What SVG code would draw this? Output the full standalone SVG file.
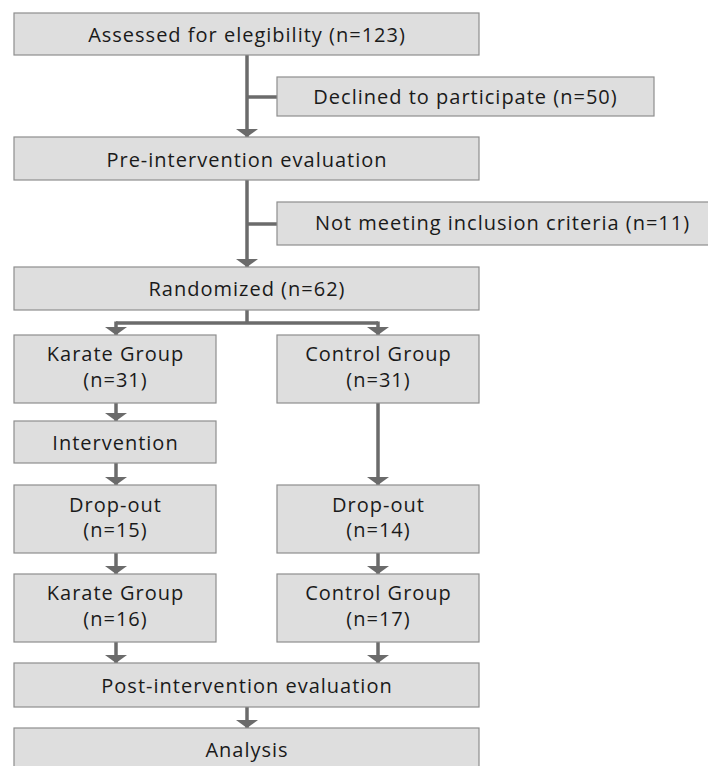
<svg xmlns="http://www.w3.org/2000/svg" width="708" height="766" viewBox="0 0 708 766">
<style>
.box{fill:#dedede;stroke:#8e8e8e;stroke-width:1.2}
.t{font-family:"Open Sans","Liberation Sans",sans-serif;font-size:20px;letter-spacing:1px;fill:#1a1a1a;text-anchor:middle}
.c{fill:none;stroke:#6b6b6b;stroke-width:3.5}
</style>
<defs>
<marker id="ah" markerUnits="userSpaceOnUse" markerWidth="10" markerHeight="24" viewBox="0 -12 9 24" refX="8" refY="0" orient="auto">
<path d="M0,-11 L8,0 L0,11 z" fill="#6b6b6b"/>
</marker>
</defs>
<rect width="708" height="766" fill="#fff"/>
<g id="connectors">
<line class="c" x1="247" y1="55" x2="247" y2="137" marker-end="url(#ah)"/>
<line class="c" x1="247" y1="97" x2="277" y2="97"/>
<line class="c" x1="247" y1="180" x2="247" y2="267" marker-end="url(#ah)"/>
<line class="c" x1="247" y1="224" x2="277" y2="224"/>
<polyline class="c" points="247,310 247,323"/>
<polyline class="c" points="116,323 378,323"/>
<line class="c" x1="116" y1="321.5" x2="116" y2="335" marker-end="url(#ah)"/>
<line class="c" x1="378" y1="321.5" x2="378" y2="335" marker-end="url(#ah)"/>
<line class="c" x1="116" y1="403" x2="116" y2="421" marker-end="url(#ah)"/>
<line class="c" x1="116" y1="463" x2="116" y2="485" marker-end="url(#ah)"/>
<line class="c" x1="116" y1="553" x2="116" y2="574" marker-end="url(#ah)"/>
<line class="c" x1="116" y1="642" x2="116" y2="663" marker-end="url(#ah)"/>
<line class="c" x1="378" y1="403" x2="378" y2="485" marker-end="url(#ah)"/>
<line class="c" x1="378" y1="553" x2="378" y2="574" marker-end="url(#ah)"/>
<line class="c" x1="378" y1="642" x2="378" y2="663" marker-end="url(#ah)"/>
<line class="c" x1="247" y1="707" x2="247" y2="728" marker-end="url(#ah)"/>
</g>
<g id="assessed"><rect class="box" x="14" y="13" width="465" height="42"/><text class="t" x="247" y="42">Assessed for elegibility (n=123)</text></g>
<g id="declined"><rect class="box" x="277" y="77" width="377" height="39"/><text class="t" x="465.5" y="103.5">Declined to participate (n=50)</text></g>
<g id="pre"><rect class="box" x="14" y="137" width="465" height="43"/><text class="t" x="247" y="166.5">Pre-intervention evaluation</text></g>
<g id="notmeeting"><rect class="box" x="277" y="202" width="450" height="43"/><text class="t" x="502.5" y="229.5">Not meeting inclusion criteria (n=11)</text></g>
<g id="randomized"><rect class="box" x="14" y="267" width="465" height="43"/><text class="t" x="247" y="296">Randomized (n=62)</text></g>
<g id="karate1"><rect class="box" x="14" y="335" width="202" height="68"/><text class="t" x="115.5" y="361">Karate Group</text><text class="t" x="115.5" y="386.5">(n=31)</text></g>
<g id="control1"><rect class="box" x="277" y="335" width="202" height="68"/><text class="t" x="378.5" y="361">Control Group</text><text class="t" x="378.5" y="386.5">(n=31)</text></g>
<g id="intervention"><rect class="box" x="14" y="421" width="202" height="42"/><text class="t" x="115.5" y="450">Intervention</text></g>
<g id="dropout1"><rect class="box" x="14" y="485" width="202" height="68"/><text class="t" x="115.5" y="511.5">Drop-out</text><text class="t" x="115.5" y="537">(n=15)</text></g>
<g id="dropout2"><rect class="box" x="277" y="485" width="202" height="68"/><text class="t" x="378.5" y="511.5">Drop-out</text><text class="t" x="378.5" y="537">(n=14)</text></g>
<g id="karate2"><rect class="box" x="14" y="574" width="202" height="68"/><text class="t" x="115.5" y="600">Karate Group</text><text class="t" x="115.5" y="625.5">(n=16)</text></g>
<g id="control2"><rect class="box" x="277" y="574" width="202" height="68"/><text class="t" x="378.5" y="600">Control Group</text><text class="t" x="378.5" y="625.5">(n=17)</text></g>
<g id="post"><rect class="box" x="14" y="663" width="465" height="44"/><text class="t" x="247" y="692.5">Post-intervention evaluation</text></g>
<g id="analysis"><rect class="box" x="14" y="728" width="465" height="50"/><text class="t" x="247" y="756.5">Analysis</text></g>
</svg>
